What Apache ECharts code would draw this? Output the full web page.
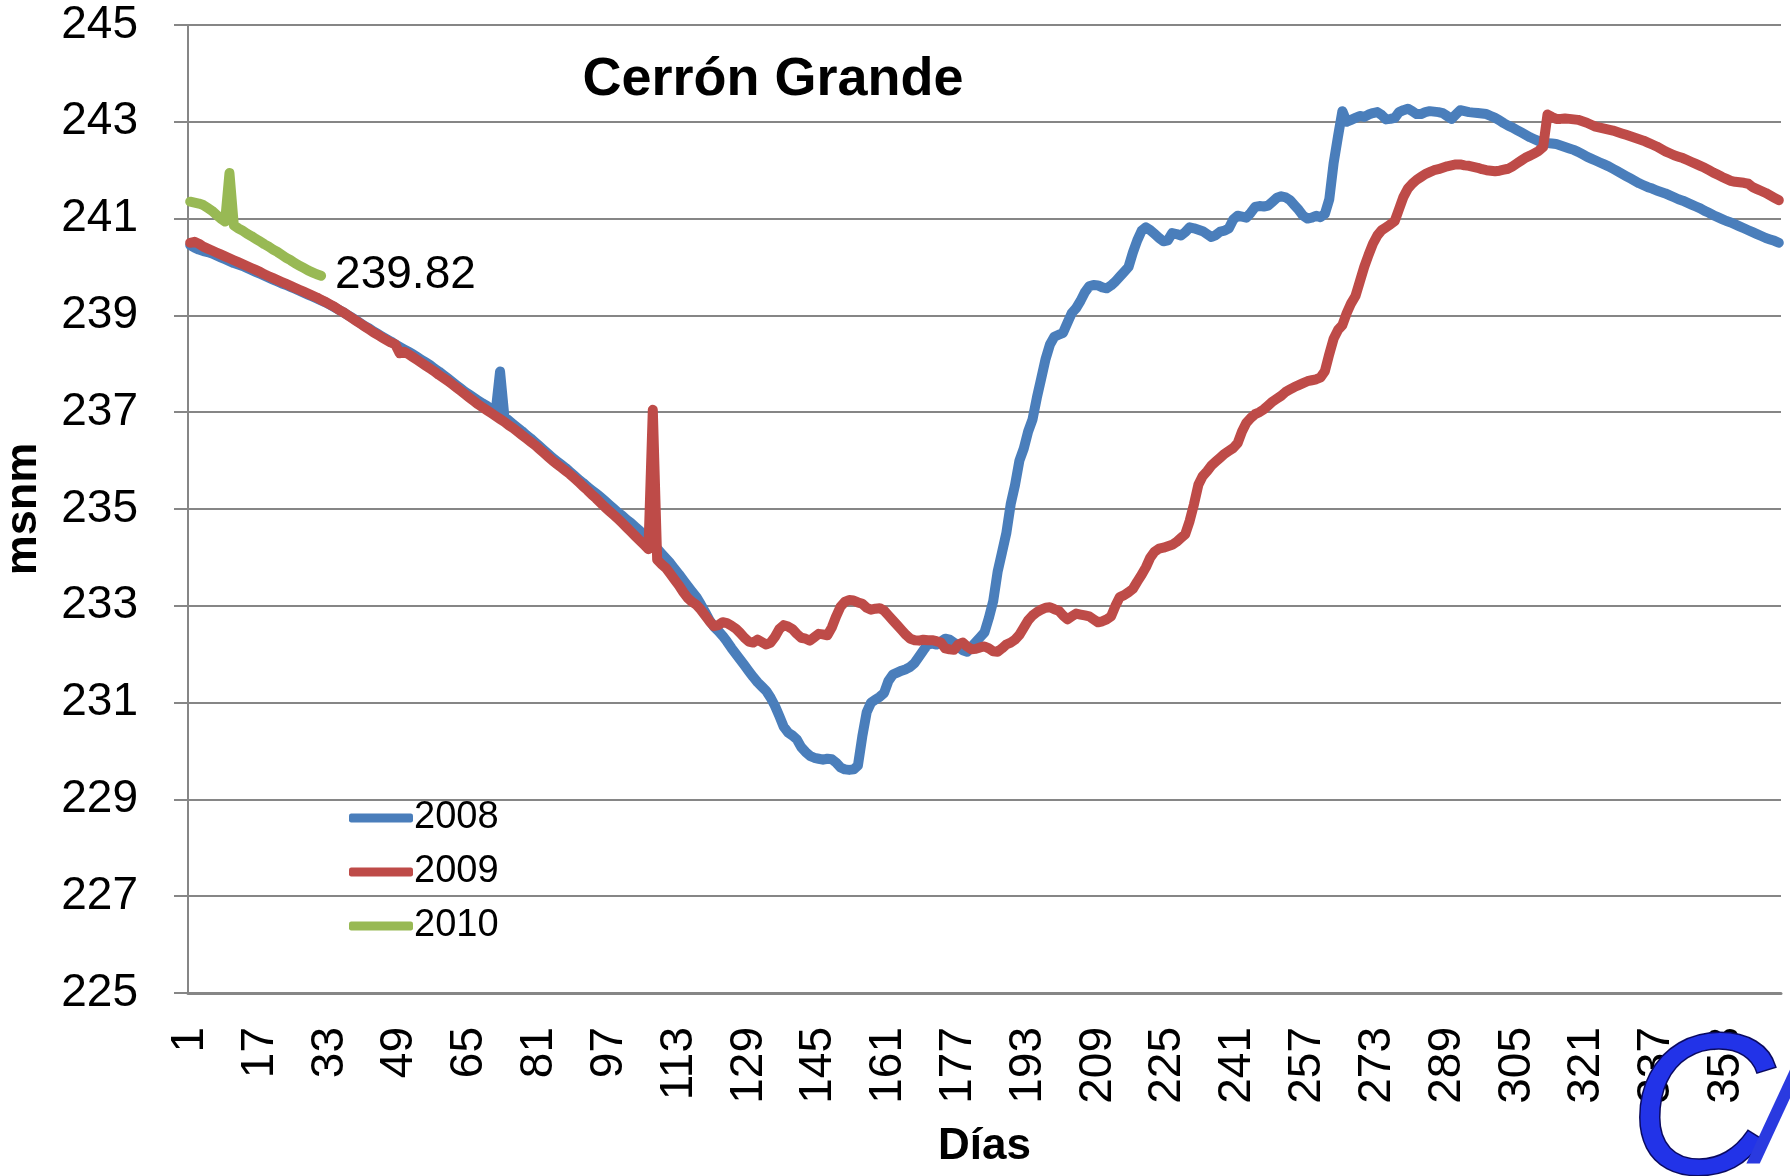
<!DOCTYPE html>
<html>
<head>
    <meta charset="utf-8">
    <title>Cerrón Grande</title>
    <script src="https://cdn.jsdelivr.net/npm/echarts@6/dist/echarts.min.js"></script>
    <style>
        html, body { margin: 0; padding: 0; background: #fff; }
        #chart { width: 1790px; height: 1176px; }
    </style>
</head>
<body>
    <div id="chart"></div>
    <script type="text/javascript">

// daily levels (msnm)
var nivel2008 = [
    240.45, 240.40, 240.36, 240.33, 240.31, 240.28, 240.24, 240.20, 240.16, 240.12,
    240.08, 240.05, 240.02, 239.98, 239.94, 239.90, 239.86, 239.82, 239.78, 239.74,
    239.70, 239.66, 239.63, 239.59, 239.55, 239.51, 239.47, 239.43, 239.39, 239.35,
    239.31, 239.27, 239.22, 239.17, 239.12, 239.07, 239.01, 238.96, 238.90, 238.84,
    238.78, 238.73, 238.67, 238.62, 238.56, 238.51, 238.46, 238.40, 238.35, 238.30,
    238.25, 238.20, 238.14, 238.08, 238.03, 237.97, 237.90, 237.84, 237.77, 237.70,
    237.63, 237.56, 237.49, 237.42, 237.36, 237.30, 237.24, 237.18, 237.13, 237.07,
    237.02, 237.84, 236.90, 236.83, 236.75, 236.68, 236.61, 236.53, 236.46, 236.38,
    236.30, 236.22, 236.14, 236.06, 235.99, 235.92, 235.85, 235.77, 235.69, 235.61,
    235.54, 235.46, 235.39, 235.32, 235.25, 235.17, 235.09, 235.01, 234.93, 234.86,
    234.78, 234.71, 234.63, 234.55, 234.46, 234.37, 234.28, 234.18, 234.08, 233.98,
    233.88, 233.76, 233.65, 233.53, 233.41, 233.29, 233.18, 233.03, 232.87, 232.70,
    232.57, 232.48, 232.38, 232.26, 232.13, 232.01, 231.89, 231.77, 231.65, 231.53,
    231.42, 231.33, 231.24, 231.10, 230.93, 230.72, 230.50, 230.38, 230.32, 230.24,
    230.08, 229.98, 229.90, 229.86, 229.84, 229.82, 229.84, 229.83, 229.76, 229.66,
    229.62, 229.61, 229.62, 229.70, 230.30, 230.80, 231.00, 231.06, 231.12, 231.20,
    231.45, 231.58, 231.62, 231.66, 231.69, 231.74, 231.82, 231.95, 232.08, 232.20,
    232.22, 232.20, 232.26, 232.32, 232.30, 232.24, 232.16, 232.08, 232.05, 232.15,
    232.25, 232.35, 232.45, 232.75, 233.10, 233.70, 234.10, 234.50, 235.10, 235.50,
    236.00, 236.25, 236.60, 236.85, 237.30, 237.70, 238.10, 238.40, 238.56, 238.60,
    238.64, 238.85, 239.05, 239.15, 239.30, 239.48, 239.60, 239.63, 239.62, 239.58,
    239.56, 239.62, 239.70, 239.80, 239.90, 240.00, 240.30, 240.55, 240.75, 240.82,
    240.76, 240.68, 240.60, 240.53, 240.55, 240.70, 240.68, 240.65, 240.72, 240.82,
    240.80, 240.77, 240.74, 240.68, 240.62, 240.66, 240.73, 240.75, 240.80, 240.98,
    241.06, 241.04, 241.02, 241.12, 241.24, 241.26, 241.25, 241.27, 241.35, 241.43,
    241.46, 241.44, 241.38, 241.28, 241.18, 241.06, 241.00, 241.02, 241.06, 241.03,
    241.10, 241.40, 242.15, 242.70, 243.22, 243.00, 243.04, 243.08, 243.12, 243.10,
    243.15, 243.18, 243.20, 243.14, 243.05, 243.06, 243.08, 243.20, 243.24, 243.27,
    243.22, 243.16, 243.16, 243.20, 243.22, 243.21, 243.20, 243.18, 243.12, 243.06,
    243.15, 243.24, 243.22, 243.20, 243.19, 243.18, 243.17, 243.16, 243.12, 243.08,
    243.03, 242.97, 242.92, 242.88, 242.83, 242.78, 242.73, 242.68, 242.64, 242.60,
    242.57, 242.56, 242.55, 242.54, 242.51, 242.48, 242.45, 242.42, 242.38, 242.33,
    242.28, 242.24, 242.20, 242.16, 242.12, 242.08, 242.03, 241.98, 241.93, 241.88,
    241.83, 241.78, 241.73, 241.69, 241.65, 241.62, 241.58, 241.55, 241.52, 241.48,
    241.44, 241.40, 241.37, 241.33, 241.29, 241.25, 241.21, 241.16, 241.12, 241.07,
    241.03, 240.99, 240.95, 240.92, 240.88, 240.84, 240.80, 240.76, 240.72, 240.68,
    240.64, 240.60, 240.57, 240.54, 240.50
];

var nivel2009 = [
    240.50, 240.52, 240.48, 240.42, 240.38, 240.34, 240.30, 240.26, 240.22, 240.18,
    240.14, 240.10, 240.06, 240.02, 239.98, 239.94, 239.90, 239.85, 239.81, 239.77,
    239.73, 239.69, 239.65, 239.61, 239.57, 239.53, 239.49, 239.45, 239.41, 239.37,
    239.32, 239.28, 239.23, 239.18, 239.12, 239.07, 239.01, 238.95, 238.89, 238.83,
    238.77, 238.71, 238.65, 238.60, 238.54, 238.49, 238.44, 238.40, 238.22, 238.25,
    238.20, 238.14, 238.08, 238.02, 237.96, 237.90, 237.84, 237.77, 237.71, 237.65,
    237.58, 237.51, 237.44, 237.37, 237.30, 237.23, 237.16, 237.10, 237.04, 236.98,
    236.92, 236.86, 236.80, 236.73, 236.67, 236.60, 236.53, 236.46, 236.39, 236.32,
    236.24, 236.16, 236.08, 236.00, 235.93, 235.86, 235.79, 235.72, 235.64, 235.56,
    235.47, 235.39, 235.30, 235.22, 235.13, 235.04, 234.96, 234.88, 234.80, 234.71,
    234.62, 234.53, 234.44, 234.35, 234.26, 234.17, 237.05, 233.95, 233.86, 233.78,
    233.66, 233.54, 233.42, 233.28, 233.16, 233.08, 233.02, 232.92, 232.80, 232.68,
    232.58, 232.60, 232.66, 232.64, 232.59, 232.53, 232.44, 232.34, 232.26, 232.24,
    232.30, 232.25, 232.20, 232.24, 232.36, 232.52, 232.60, 232.57, 232.52, 232.42,
    232.34, 232.32, 232.28, 232.35, 232.42, 232.41, 232.39, 232.55, 232.78, 232.98,
    233.08, 233.12, 233.11, 233.07, 233.04, 232.96, 232.92, 232.94, 232.95, 232.90,
    232.80, 232.70, 232.60, 232.50, 232.40, 232.32, 232.29, 232.28, 232.30, 232.29,
    232.29, 232.27, 232.24, 232.12, 232.10, 232.09, 232.20, 232.24, 232.16, 232.10,
    232.11, 232.14, 232.16, 232.12, 232.06, 232.05, 232.12, 232.20, 232.24, 232.30,
    232.40, 232.55, 232.70, 232.80, 232.87, 232.92, 232.96, 232.97, 232.93, 232.90,
    232.80, 232.72, 232.78, 232.84, 232.82, 232.80, 232.78, 232.72, 232.66, 232.68,
    232.72, 232.78, 233.00, 233.18, 233.22, 233.28, 233.35, 233.50, 233.64, 233.80,
    234.00, 234.12, 234.18, 234.20, 234.23, 234.26, 234.32, 234.40, 234.48, 234.75,
    235.10, 235.50, 235.68, 235.78, 235.90, 235.98, 236.06, 236.14, 236.20, 236.26,
    236.36, 236.60, 236.78, 236.88, 236.96, 237.00, 237.06, 237.14, 237.22, 237.28,
    237.34, 237.42, 237.47, 237.52, 237.56, 237.60, 237.64, 237.66, 237.68, 237.72,
    237.85, 238.20, 238.52, 238.70, 238.80, 239.05, 239.25, 239.40, 239.70, 240.00,
    240.25, 240.48, 240.65, 240.76, 240.82, 240.88, 240.95, 241.20, 241.45, 241.62,
    241.72, 241.80, 241.86, 241.92, 241.96, 242.00, 242.02, 242.05, 242.08, 242.10,
    242.12, 242.12, 242.10, 242.09, 242.07, 242.05, 242.02, 242.00, 241.99, 241.98,
    241.99, 242.01, 242.03, 242.08, 242.14, 242.20, 242.26, 242.30, 242.35, 242.40,
    242.48, 243.15, 243.10, 243.06, 243.06, 243.07, 243.06, 243.05, 243.04, 243.01,
    242.98, 242.94, 242.90, 242.88, 242.86, 242.84, 242.82, 242.79, 242.76, 242.73,
    242.70, 242.67, 242.64, 242.61, 242.57, 242.53, 242.49, 242.44, 242.39, 242.35,
    242.31, 242.28, 242.25, 242.21, 242.17, 242.13, 242.09, 242.05, 242.00, 241.95,
    241.91, 241.86, 241.82, 241.78, 241.76, 241.75, 241.74, 241.72, 241.65, 241.61,
    241.57, 241.53, 241.48, 241.43, 241.38
];

var nivel2010 = [
    241.35, 241.33, 241.31, 241.28, 241.22, 241.16, 241.08, 241.00, 240.94, 241.94,
    240.86, 240.80, 240.75, 240.69, 240.64, 240.58, 240.53, 240.47, 240.42, 240.36,
    240.31, 240.25, 240.19, 240.14, 240.08, 240.03, 239.98, 239.93, 239.89, 239.85,
    239.82
];

var years = ['2008', '2009', '2010'];
var colors = ['#4A7EBB', '#BE4B48', '#98B954'];

// category labels: day of the year
var dias = [];
for (var i = 1; i <= nivel2008.length; i++) {
    dias.push(String(i));
}

var gris = '#868686';
var fuente = 'Liberation Sans';
var grosor = 10;

var myChart = echarts.init(document.getElementById('chart'), null, {renderer: 'canvas'});

function serie(idx, datos) {
    return {
        name: years[idx],
        type: 'line',
        data: datos,
        symbol: 'none',
        showSymbol: false,
        itemStyle: { color: colors[idx] },
        lineStyle: { color: colors[idx], width: grosor, cap: 'round', join: 'round' }
    };
}

var s2010 = serie(2, nivel2010);
s2010.endLabel = {
    show: true,
    distance: 14,
    fontFamily: fuente,
    fontSize: 46,
    color: '#000',
    formatter: function (p) { return p.value; }
};

myChart.setOption(
    option = {
        animation: false,
        backgroundColor: '#ffffff',
        textStyle: { fontFamily: fuente },
        title: {
            text: 'Cerrón Grande',
            left: 768,
            top: 48,
            textAlign: 'center',
            textStyle: { fontFamily: fuente, fontSize: 54, fontWeight: 'bold', color: '#000' }
        },
        legend: {
            data: years.map(function (y) { return { name: y, icon: 'roundRect' }; }),
            orient: 'vertical',
            left: 344,
            top: 794,
            itemWidth: 64,
            itemHeight: 9,
            itemGap: 16,
            textStyle: { fontFamily: fuente, fontSize: 38, color: '#000', padding: [0, 0, 0, -4] }
        },
        grid: {
            left: 188,
            right: 9,
            top: 25,
            bottom: 183,
            outerBoundsMode: 'none',
            containLabel: false
        },
        xAxis: {
            type: 'category',
            data: dias,
            boundaryGap: true,
            name: 'Días',
            nameLocation: 'middle',
            nameGap: 132,
            nameTextStyle: { fontFamily: fuente, fontSize: 44, fontWeight: 'bold', color: '#000' },
            axisLine: { lineStyle: { color: gris, width: 3 } },
            axisTick: { interval: 9, length: 15, lineStyle: { color: gris, width: 2 } },
            axisLabel: { interval: 15, rotate: 90, fontSize: 46, color: '#000', margin: 34, padding: [12, 0, 0, 0] }
        },
        yAxis: {
            type: 'value',
            min: 225,
            max: 245,
            interval: 2,
            name: 'msnm',
            nameLocation: 'middle',
            nameGap: 142,
            nameRotate: 90,
            nameTextStyle: { fontFamily: fuente, fontSize: 45, fontWeight: 'bold', color: '#000' },
            axisLine: { show: true, lineStyle: { color: gris, width: 2 } },
            axisTick: { show: true, length: 14, lineStyle: { color: gris, width: 2 } },
            axisLabel: { fontSize: 46, color: '#000', margin: 50 },
            splitLine: { lineStyle: { color: gris, width: 2 } }
        },
        series: [serie(0, nivel2008), serie(1, nivel2009), s2010],
        // logo in the corner
        graphic: [
            {
                type: 'text',
                left: 1628,
                top: 1016,
                z: 100,
                style: {
                    text: 'C',
                    font: 'italic 200px "Liberation Sans"',
                    fill: '#2233e8',
                    stroke: '#0a0a60',
                    lineWidth: 3,
                    shadowColor: 'rgba(0,0,0,0.5)',
                    shadowBlur: 8,
                    shadowOffsetX: 6,
                    shadowOffsetY: 4
                }
            },
            {
                type: 'text',
                left: 1756,
                top: 1030,
                z: 100,
                style: {
                    text: '/',
                    font: 'italic 170px "Liberation Sans"',
                    fill: '#2a3ae0',
                    shadowColor: 'rgba(0,0,0,0.35)',
                    shadowBlur: 6,
                    shadowOffsetX: 4
                }
            }
        ]
    });

    window.onresize = function(){
        myChart.resize();
    };

    </script>
</body>
</html>
